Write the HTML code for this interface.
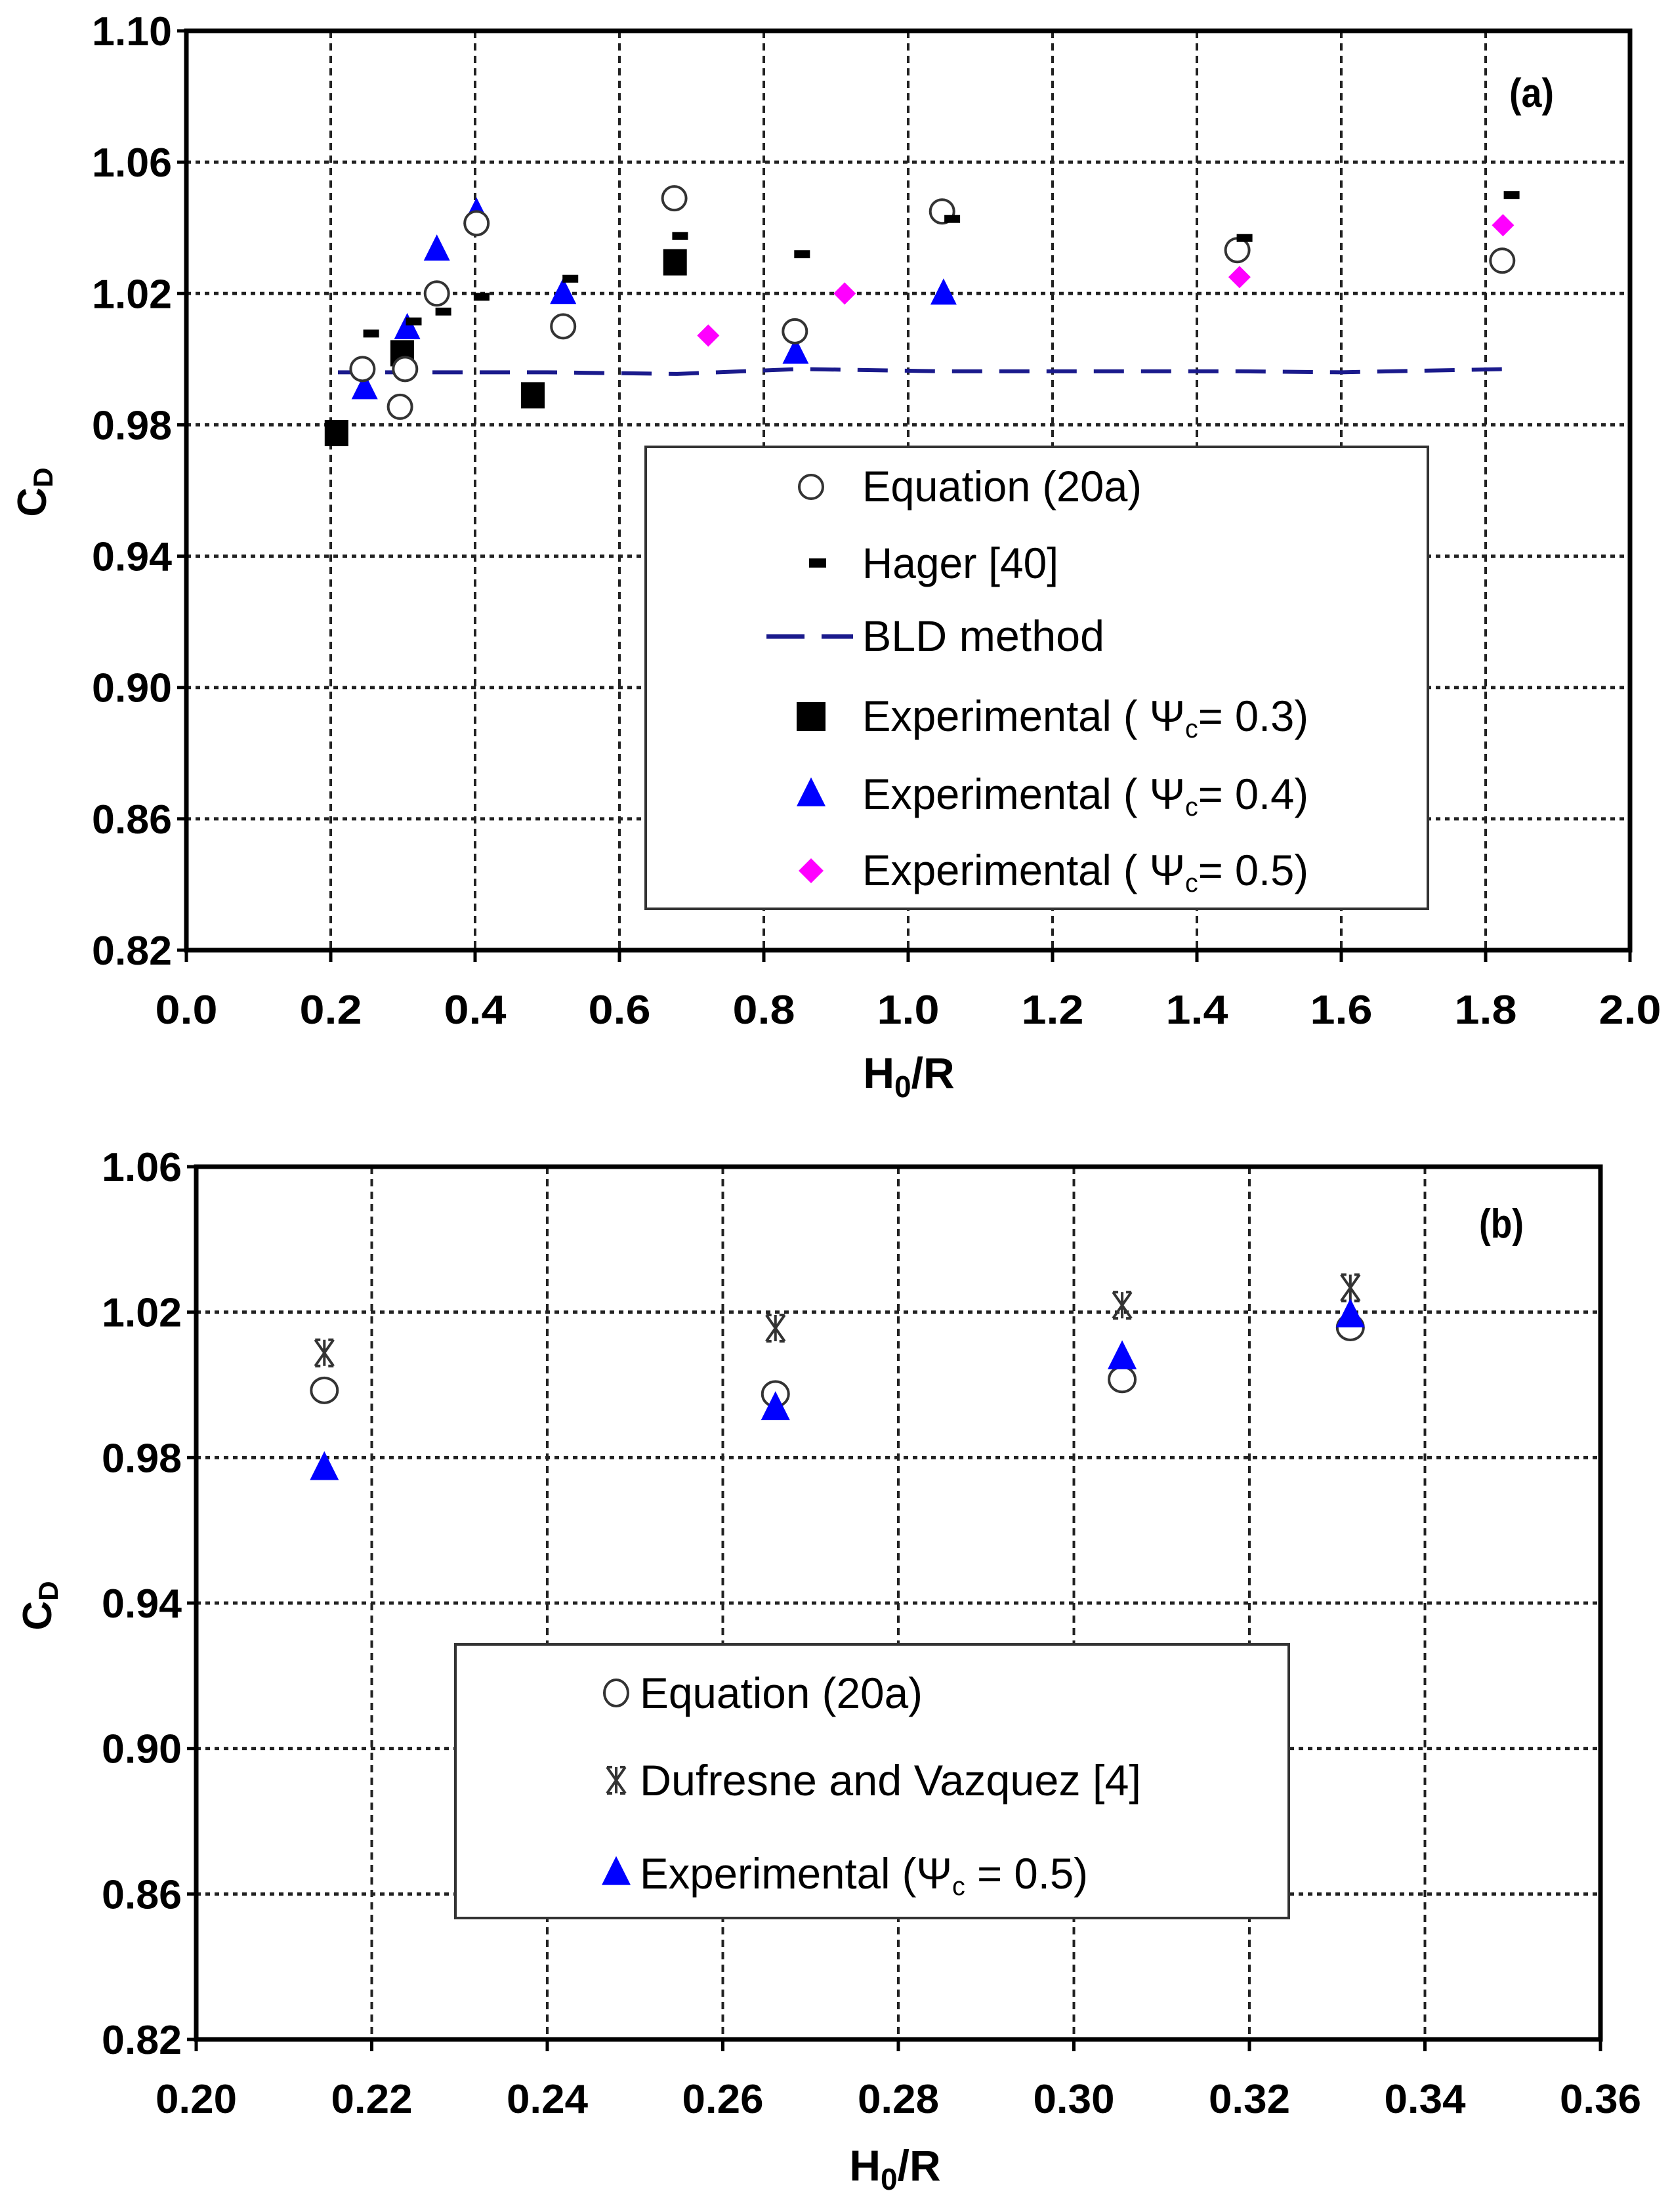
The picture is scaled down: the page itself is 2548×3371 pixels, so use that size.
<!DOCTYPE html>
<html><head><meta charset="utf-8">
<style>
html,body{margin:0;padding:0;background:#fff;}
svg{display:block;font-family:"Liberation Sans",Arial,sans-serif;}
</style></head>
<body>
<svg id="svg" width="2548" height="3371" viewBox="0 0 2548 3371" xmlns="http://www.w3.org/2000/svg">
<rect width="2548" height="3371" fill="#fff"/>
<g id="chartA"></g>
<g id="chartB"></g>
</svg>
<script>
// ---------- Chart A data ----------
const aXTicks = [0.0,0.2,0.4,0.6,0.8,1.0,1.2,1.4,1.6,1.8,2.0];
const aXTickLabels = ["0.0","0.2","0.4","0.6","0.8","1.0","1.2","1.4","1.6","1.8","2.0"];
const aYTicks = [0.82,0.86,0.90,0.94,0.98,1.02,1.06,1.10];
const aYTickLabels = ["0.82","0.86","0.90","0.94","0.98","1.02","1.06","1.10"];
const aEqX = [0.244,0.296,0.303,0.347,0.402,0.522,0.676,0.843,1.047,1.456,1.823];
const aEqY = [0.997,0.9855,0.997,1.020,1.0414,1.010,1.049,1.0085,1.045,1.0332,1.030];
const aHagerX = [0.256,0.315,0.356,0.409,0.532,0.684,0.853,1.061,1.466,1.836];
const aHagerY = [1.0078,1.0115,1.0145,1.019,1.0245,1.0375,1.032,1.0427,1.0369,1.050];
const aBldX = [0.21,0.25,0.30,0.40,0.50,0.68,0.85,1.05,1.46,1.60,1.83];
const aBldY = [0.996,0.996,0.996,0.996,0.996,0.9955,0.997,0.9963,0.9963,0.996,0.997];
const aSqX = [0.208,0.299,0.480,0.677];
const aSqY = [0.9775,1.0018,0.989,1.0295];
const aTriX = [0.247,0.306,0.347,0.402,0.522,0.844,1.049];
const aTriY = [0.991,1.0093,1.0332,1.0445,1.020,1.0018,1.0198];
const aDiaX = [0.723,0.912,1.459,1.824];
const aDiaY = [1.0072,1.020,1.025,1.0408];
// ---------- Chart B data ----------
const bXTicks = [0.20,0.22,0.24,0.26,0.28,0.30,0.32,0.34,0.36];
const bXTickLabels = ["0.20","0.22","0.24","0.26","0.28","0.30","0.32","0.34","0.36"];
const bYTicks = [0.82,0.86,0.90,0.94,0.98,1.02,1.06];
const bYTickLabels = ["0.82","0.86","0.90","0.94","0.98","1.02","1.06"];
const bX = [0.2146,0.266,0.3055,0.3315];
const bEqY = [0.9985,0.9975,1.0015,1.0158];
const bDufY = [1.0088,1.0156,1.0219,1.0267];
const bExpY = [0.977,0.9935,1.0075,1.019];

const NS="http://www.w3.org/2000/svg";
function mk(parent,tag,attrs,text){const e=document.createElementNS(NS,tag);for(const k in attrs)e.setAttribute(k,attrs[k]);if(text!==undefined)e.textContent=text;parent.appendChild(e);return e;}

function axes(g,o){
  const sx=v=>o.x0+(v-o.xmin)/(o.xmax-o.xmin)*(o.x1-o.x0);
  const sy=v=>o.y1-(v-o.ymin)/(o.ymax-o.ymin)*(o.y1-o.y0);
  // gridlines
  o.yt.forEach((v,i)=>{
    if(i>0&&i<o.yt.length-1){const l=mk(g,'line',{x1:o.x0,x2:o.x1,y1:sy(v),y2:sy(v),stroke:'#222','stroke-width':5,'stroke-dasharray':'7 7'});
    
    }
    const t=mk(g,'text',{x:o.x0-22,y:sy(v)+22,'text-anchor':'end','font-size':62,'font-weight':'bold',textLength:o.ytw,lengthAdjust:'spacingAndGlyphs'},o.ytl[i]);
    
    
    const tk=mk(g,'line',{x1:o.x0-14,x2:o.x0,y1:sy(v),y2:sy(v),stroke:'#000','stroke-width':5});
    
    
  });
  o.xt.forEach((v,i)=>{
    if(i>0&&i<o.xt.length-1){const l=mk(g,'line',{x1:sx(v),x2:sx(v),y1:o.y0,y2:o.y1,stroke:'#222','stroke-width':4,'stroke-dasharray':'11 8'});
    
    }
    const t=mk(g,'text',{x:sx(v),y:o.y1+112,'text-anchor':'middle','font-size':62,'font-weight':'bold',textLength:o.xtw,lengthAdjust:'spacingAndGlyphs'},o.xtl[i]);
    
    
    const tk=mk(g,'line',{x1:sx(v),x2:sx(v),y1:o.y1,y2:o.y1+18,stroke:'#000','stroke-width':5});
    
    
  });
  const f=mk(g,'rect',{x:o.x0,y:o.y0,width:o.x1-o.x0,height:o.y1-o.y0,fill:'none',stroke:'#000','stroke-width':7});
  
  
  return {sx,sy};
}
function circ(g,x,y,rx,ry,name){const e=mk(g,'ellipse',{cx:x,cy:y,rx:rx,ry:ry,fill:'#fff',stroke:'#333','stroke-width':4});return e;}
function tri(g,x,y,s,name){const e=mk(g,'polygon',{points:`${x},${y-s*0.6} ${x-s/2},${y+s*0.4} ${x+s/2},${y+s*0.4}`,fill:'#0000ff'});return e;}
function sq(g,x,y,w,h,name){const e=mk(g,'rect',{x:x-w/2,y:y-h/2,width:w,height:h,fill:'#000'});return e;}
function dia(g,x,y,s,name){const e=mk(g,'polygon',{points:`${x},${y-s/2} ${x+s/2},${y} ${x},${y+s/2} ${x-s/2},${y}`,fill:'#ff00ff'});return e;}
function star(g,x,y,name){const e=mk(g,'path',{d:`M${x-14},${y-20}L${x+14},${y+20}M${x+14},${y-20}L${x-14},${y+20}M${x},${y-20}L${x},${y+20}M${x-14},${y-20}L${x-6},${y-20}M${x+6},${y-20}L${x+14},${y-20}M${x-14},${y+20}L${x-6},${y+20}M${x+6},${y+20}L${x+14},${y+20}`,stroke:'#333','stroke-width':4,fill:'none'});return e;}
function ltext(g,x,y,s,w,name,size){const t=mk(g,'text',{x:x,y:y,'font-size':size||66,textLength:w,lengthAdjust:'spacingAndGlyphs'});t.innerHTML=s;return t;}

// ---------- Chart A ----------
const gA=document.getElementById('chartA');
const A=axes(gA,{x0:284,x1:2484,y0:47,y1:1448,xmin:0,xmax:2,ymin:0.82,ymax:1.10,xt:aXTicks,xtl:aXTickLabels,yt:aYTicks,ytl:aYTickLabels,ytw:122,xtw:95});
// BLD line
let d='';aBldX.forEach((v,i)=>{d+=(i?'L':'M')+A.sx(v)+','+A.sy(aBldY[i]);});
const bl=mk(gA,'path',{d:d,fill:'none',stroke:'#1a1a8c','stroke-width':6,'stroke-dasharray':'46 26'});


aSqX.forEach((v,i)=>sq(gA,A.sx(v),A.sy(aSqY[i]),36,40,'exp-psi03-point'));
aTriX.forEach((v,i)=>tri(gA,A.sx(v),A.sy(aTriY[i]),40,'exp-psi04-point'));
aDiaX.forEach((v,i)=>dia(gA,A.sx(v),A.sy(aDiaY[i]),34,'exp-psi05-point'));
aEqX.forEach((v,i)=>circ(gA,A.sx(v),A.sy(aEqY[i]),18,18,'equation-20a-point'));
aHagerX.forEach((v,i)=>sq(gA,A.sx(v),A.sy(aHagerY[i]),24,12,'hager-point'));
// legend A
const lgA=mk(gA,'g',{});


mk(lgA,'rect',{x:984,y:681,width:1192,height:704,fill:'#fff',stroke:'#333','stroke-width':4});
circ(lgA,1236,742,18,18,'legend-equation-marker');
ltext(lgA,1314,764,'Equation (20a)',426,'legend-equation-label');
sq(lgA,1246,858,26,14,'legend-hager-marker');
ltext(lgA,1314,881,'Hager [40]',299,'legend-hager-label');
const ld=mk(lgA,'line',{x1:1168,x2:1300,y1:970,y2:970,stroke:'#1a1a8c','stroke-width':7,'stroke-dasharray':'58 26'});


ltext(lgA,1314,992,'BLD method',369,'legend-bld-label');
sq(lgA,1236,1092,44,44,'legend-psi03-marker');
ltext(lgA,1314,1114,'Experimental ( Ψ<tspan font-size="40" dy="10">c</tspan><tspan dy="-10">= 0.3)</tspan>',680,'legend-psi03-label');
tri(lgA,1236,1211,44,'legend-psi04-marker');
ltext(lgA,1314,1233,'Experimental ( Ψ<tspan font-size="40" dy="10">c</tspan><tspan dy="-10">= 0.4)</tspan>',680,'legend-psi04-label');
dia(lgA,1236,1327,38,'legend-psi05-marker');
ltext(lgA,1314,1349,'Experimental ( Ψ<tspan font-size="40" dy="10">c</tspan><tspan dy="-10">= 0.5)</tspan>',680,'legend-psi05-label');
ltext(gA,2300,163,'(a)',68,'panel-label-a',62).setAttribute('font-weight','bold');
const xtA=mk(gA,'text',{x:1385,y:1658,'text-anchor':'middle','font-size':66,'font-weight':'bold'});
xtA.innerHTML='H<tspan font-size="46" dy="14">0</tspan><tspan dy="-14">/R</tspan>';


const ytA=mk(gA,'text',{transform:'translate(70,750) rotate(-90)','text-anchor':'middle','font-size':62,'font-weight':'bold'});
ytA.innerHTML='C<tspan font-size="42" dy="10">D</tspan>';



// ---------- Chart B ----------
const gB=document.getElementById('chartB');
const B=axes(gB,{x0:299,x1:2439,y0:1778,y1:3108,xmin:0.20,xmax:0.36,ymin:0.82,ymax:1.06,xt:bXTicks,xtl:bXTickLabels,yt:bYTicks,ytl:bYTickLabels,ytw:122,xtw:124});
bX.forEach((v,i)=>circ(gB,B.sx(v),B.sy(bEqY[i]),20,19,'equation-20a-point'));
bX.forEach((v,i)=>star(gB,B.sx(v),B.sy(bDufY[i]),'dufresne-vazquez-point'));
bX.forEach((v,i)=>tri(gB,B.sx(v),B.sy(bExpY[i]),44,'exp-psi05-point'));
const lgB=mk(gB,'g',{});


mk(lgB,'rect',{x:694,y:2506,width:1270,height:417,fill:'#fff',stroke:'#333','stroke-width':4});
circ(lgB,939,2580,18,20,'legend-equation-marker');
ltext(lgB,975,2603,'Equation (20a)',431,'legend-equation-label');
star(lgB,939,2713,'legend-dufresne-marker');
ltext(lgB,975,2736,'Dufresne and Vazquez [4]',764,'legend-dufresne-label');
tri(lgB,939,2855,44,'legend-exp-marker');
ltext(lgB,975,2878,'Experimental (Ψ<tspan font-size="40" dy="10">c</tspan><tspan dy="-10"> = 0.5)</tspan>',683,'legend-exp-label');
ltext(gB,2254,1886,'(b)',68,'panel-label-b',62).setAttribute('font-weight','bold');
const xtB=mk(gB,'text',{x:1364,y:3323,'text-anchor':'middle','font-size':66,'font-weight':'bold'});
xtB.innerHTML='H<tspan font-size="46" dy="14">0</tspan><tspan dy="-14">/R</tspan>';


const ytB=mk(gB,'text',{transform:'translate(78,2447) rotate(-90)','text-anchor':'middle','font-size':62,'font-weight':'bold'});
ytB.innerHTML='C<tspan font-size="42" dy="10">D</tspan>';


</script>
</body></html>
